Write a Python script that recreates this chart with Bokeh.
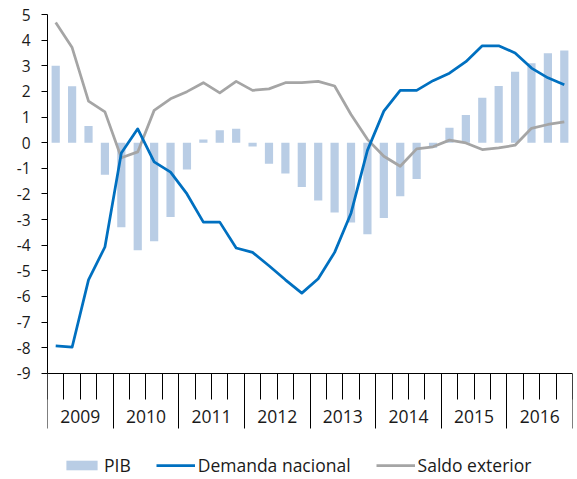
from bokeh.plotting import figure
from bokeh.models import Range1d, LinearAxis, FixedTicker, Legend, LegendItem, ColumnDataSource
from bokeh.embed import file_html
from bokeh.resources import INLINE

years = ["2009", "2010", "2011", "2012", "2013", "2014", "2015", "2016"]
quarters_per_year = 4

pib = [3.0, 2.2, 0.65, -1.25, -3.3, -4.2, -3.85, -2.9,
       -1.05, 0.12, 0.48, 0.54, -0.15, -0.82, -1.2, -1.73,
       -2.26, -2.72, -3.11, -3.57, -2.94, -2.09, -1.42, -0.2,
       0.58, 1.08, 1.75, 2.21, 2.77, 3.1, 3.49, 3.6]
demanda = [-7.93, -7.98, -5.35, -4.07, -0.4, 0.54, -0.75, -1.15,
           -2.0, -3.1, -3.1, -4.11, -4.28, -4.8, -5.35, -5.87,
           -5.31, -4.28, -2.75, -0.3, 1.23, 2.04, 2.04, 2.42,
           2.71, 3.16, 3.78, 3.78, 3.5, 2.91, 2.53, 2.26]
saldo = [4.69, 3.71, 1.62, 1.2, -0.59, -0.36, 1.26, 1.71,
         1.99, 2.34, 1.94, 2.39, 2.04, 2.1, 2.34, 2.34,
         2.39, 2.21, 1.1, 0.13, -0.53, -0.92, -0.24, -0.16,
         0.1, -0.01, -0.27, -0.2, -0.1, 0.56, 0.71, 0.81]
y_ticks = list(range(-9, 6))

FONT = "Open Sans"
TXT = "#1a1a1a"
n = len(pib)
nq = len(years) * quarters_per_year
y_lo, y_hi = min(y_ticks), max(y_ticks)
# extra room below the value axis (in data units) for the year axis and legend
y_view_lo = y_lo - 4.14

src = ColumnDataSource(dict(x=[i + 0.5 for i in range(n)], pib=pib, demanda=demanda, saldo=saldo))

p = figure(width=577, height=479, x_range=Range1d(0, nq), y_range=Range1d(y_view_lo, y_hi),
           output_backend="svg", toolbar_location=None,
           x_axis_location=None, y_axis_location=None,
           min_border_left=47, min_border_right=5, min_border_top=14, min_border_bottom=0)
p.outline_line_color = None
p.xgrid.visible = False
p.ygrid.visible = False

bars = p.vbar(x="x", top="pib", bottom=0, width=0.5, fill_color="#B9CDE5", line_color=None, source=src)
gray = p.line("x", "saldo", line_color="#A5A5A5", line_width=2.75, line_join="round", source=src)
blue = p.line("x", "demanda", line_color="#0070C0", line_width=2.75, line_join="round", source=src)

yaxis = LinearAxis(ticker=FixedTicker(ticks=y_ticks, minor_ticks=[]), bounds=(y_lo, y_hi),
                   major_label_overrides={t: str(t) for t in y_ticks},
                   major_tick_out=6, major_tick_in=0, minor_tick_out=0, minor_tick_in=0,
                   major_label_standoff=11, axis_line_color="black", major_tick_line_color="black",
                   major_label_text_font=FONT, major_label_text_font_size="15.5px",
                   major_label_text_color=TXT)
p.add_layout(yaxis, "left")

year_centers = [i * quarters_per_year + quarters_per_year / 2 for i in range(len(years))]
year_edges = [i * quarters_per_year for i in range(len(years) + 1)]
quarter_edges = list(range(nq + 1))

xa = LinearAxis(fixed_location=y_lo,
                ticker=FixedTicker(ticks=year_centers, minor_ticks=quarter_edges),
                major_label_overrides={c: y for c, y in zip(year_centers, years)},
                major_tick_out=0, major_tick_in=0, minor_tick_out=26, minor_tick_in=0,
                major_label_standoff=11, axis_line_color="black", minor_tick_line_color="black",
                major_label_text_font=FONT, major_label_text_font_size="17.5px",
                major_label_text_color=TXT)
p.add_layout(xa, "below")

xb = LinearAxis(fixed_location=y_lo,
                ticker=FixedTicker(ticks=year_edges, minor_ticks=[]),
                major_label_overrides={e: "" for e in year_edges},
                major_tick_out=55, major_tick_in=0, minor_tick_out=0, minor_tick_in=0,
                axis_line_color=None, major_tick_line_color="black")
p.add_layout(xb, "below")

legend = Legend(items=[LegendItem(label="PIB", renderers=[bars]),
                       LegendItem(label="Demanda nacional", renderers=[blue]),
                       LegendItem(label="Saldo exterior", renderers=[gray])],
                orientation="horizontal", location=(15, 2),
                glyph_width=39, glyph_height=12, label_standoff=3, spacing=25,
                padding=0, margin=0, border_line_color=None, background_fill_alpha=0,
                label_text_font=FONT, label_text_font_size="17.5px", label_text_color=TXT)
p.add_layout(legend, "center")

open("out.html", "w").write(file_html(p, INLINE))
